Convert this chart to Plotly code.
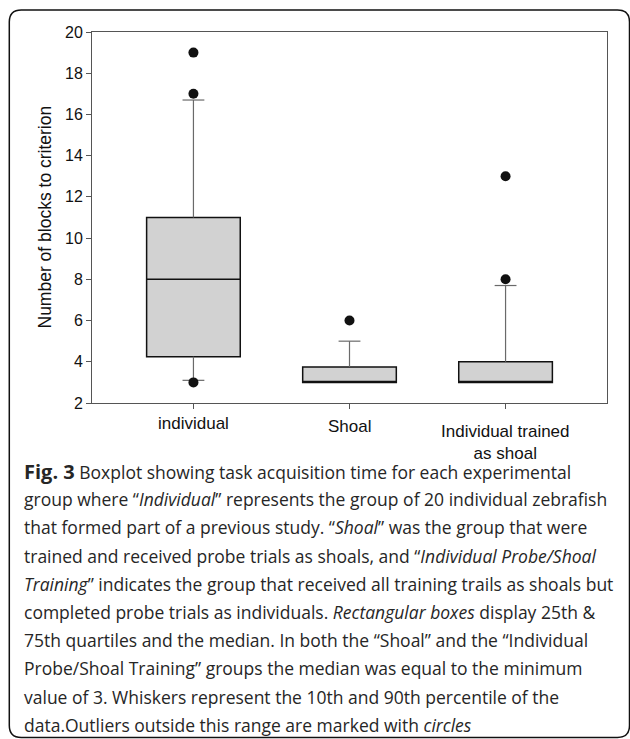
import plotly.graph_objects as go

# ---------------- data ----------------
categories = ["individual", "Shoal", "Individual trained<br>as shoal"]
q1_vals = [4.25, 3.0, 3.0]
median_vals = [8.0, 3.0, 3.0]
q3_vals = [11.0, 3.75, 4.0]
whisker_low = [3.1, 3.0, 3.0]
whisker_high = [16.7, 5.0, 7.7]
outliers = [[19, 17, 3], [6], [13, 8]]
y_ticks = [2, 4, 6, 8, 10, 12, 14, 16, 18, 20]

caption_lines = [
    "<span style='font-size:20px'><b>Fig. 3</b></span> Boxplot showing task acquisition time for each experimental",
    "group where \u201c<i>Individual</i>\u201d represents the group of 20 individual zebrafish",
    "that formed part of a previous study. \u201c<i>Shoal</i>\u201d was the group that were",
    "trained and received probe trials as shoals, and \u201c<i>Individual Probe/Shoal</i>",
    "<i>Training</i>\u201d indicates the group that received all training trails as shoals but",
    "completed probe trials as individuals. <i>Rectangular boxes</i> display 25th &amp;",
    "75th quartiles and the median. In both the \u201cShoal\u201d and the \u201cIndividual",
    "Probe/Shoal Training\u201d groups the median was equal to the minimum",
    "value of 3. Whiskers represent the 10th and 90th percentile of the",
    "data.Outliers outside this range are marked with <i>circles</i>",
]

# ---------------- layout geometry ----------------
W, H = 630, 739
ML, MR, MT, MB = 92, 23, 32, 336
PW, PH = W - ML - MR, H - MT - MB


def px(xp):
    return (xp - ML) / PW


def py(yp):
    return (H - MB - yp) / PH


xpos = list(range(len(categories)))
BOX_W = 0.6
CAP = 0.07
CHART_FONT = "Liberation Sans, Arial"

fig = go.Figure()

# boxes
for i, cat in enumerate(categories):
    fig.add_trace(go.Box(
        x=[xpos[i]], q1=[q1_vals[i]], median=[median_vals[i]], q3=[q3_vals[i]],
        lowerfence=[q1_vals[i]], upperfence=[q3_vals[i]],
        width=BOX_W, fillcolor="#d2d2d2",
        line=dict(color="#111111", width=1.5),
        boxpoints=False, showlegend=False, hoverinfo="skip",
    ))

# whiskers and caps
wx, wy = [], []
for i in range(len(categories)):
    x0 = xpos[i]
    if whisker_high[i] > q3_vals[i]:
        wx += [x0, x0, None, x0 - CAP, x0 + CAP, None]
        wy += [q3_vals[i], whisker_high[i], None, whisker_high[i], whisker_high[i], None]
    if whisker_low[i] < q1_vals[i]:
        wx += [x0, x0, None, x0 - CAP, x0 + CAP, None]
        wy += [q1_vals[i], whisker_low[i], None, whisker_low[i], whisker_low[i], None]
fig.add_trace(go.Scatter(x=wx, y=wy, mode="lines",
                         line=dict(color="#6a6a6a", width=1.2),
                         showlegend=False, hoverinfo="skip"))

# outliers
ox, oy = [], []
for i, vals in enumerate(outliers):
    for v in vals:
        ox.append(xpos[i])
        oy.append(v)
fig.add_trace(go.Scatter(x=ox, y=oy, mode="markers",
                         marker=dict(color="#111111", size=10),
                         showlegend=False, hoverinfo="skip"))

axis_common = dict(showline=True, linecolor="#555555", linewidth=1, mirror=True,
                   ticks="outside", ticklen=5, tickcolor="#555555",
                   showgrid=False, zeroline=False)

fig.update_xaxes(range=[-0.65, 2.65], tickmode="array", tickvals=xpos,
                 showticklabels=False, **axis_common)
fig.update_yaxes(range=[2, 20], tickmode="array", tickvals=y_ticks,
                 tickfont=dict(family=CHART_FONT, size=16, color="#111111"),
                 **axis_common)

annotations = [dict(
    text="Number of blocks to criterion", textangle=-90,
    xref="paper", yref="paper", x=px(44), y=py(217.5),
    xanchor="center", yanchor="middle", showarrow=False,
    font=dict(family=CHART_FONT, size=17.5, color="#111111"),
)]

# category labels (placed under each category tick)
label_centers = [423.5, 426.5, 442]
for i, cat in enumerate(categories):
    annotations.append(dict(
        text=cat, xref="x", yref="paper", x=xpos[i], y=py(label_centers[i]),
        xanchor="center", yanchor="middle", showarrow=False,
        font=dict(family=CHART_FONT, size=17, color="#111111"),
    ))

LINE0 = 471
LSTEP = 28.2
for k, line in enumerate(caption_lines):
    annotations.append(dict(
        text=line, xref="paper", yref="paper",
        x=px(22), y=py(LINE0 + k * LSTEP),
        xanchor="left", yanchor="middle", showarrow=False,
        font=dict(family="Open Sans", size=17.5, color="#262626"),
    ))

# rounded frame
L, R, T, B, r = 9.3, 629.5, 10, 737.5, 12
path = (f"M {px(L + r)},{py(T)} L {px(R - r)},{py(T)} Q {px(R)},{py(T)} {px(R)},{py(T + r)} "
        f"L {px(R)},{py(B - r)} Q {px(R)},{py(B)} {px(R - r)},{py(B)} "
        f"L {px(L + r)},{py(B)} Q {px(L)},{py(B)} {px(L)},{py(B - r)} "
        f"L {px(L)},{py(T + r)} Q {px(L)},{py(T)} {px(L + r)},{py(T)} Z")

fig.update_layout(
    width=W, height=H,
    margin=dict(l=ML, r=MR, t=MT, b=MB, pad=0),
    paper_bgcolor="white", plot_bgcolor="white",
    annotations=annotations,
    shapes=[dict(type="path", path=path, xref="paper", yref="paper",
                 line=dict(color="#111111", width=1.5), layer="above")],
    showlegend=False,
)

fig.write_html("out.html",
               config={"displayModeBar": False},
               post_script="document.body.style.margin='0';document.body.style.overflow='hidden';")
